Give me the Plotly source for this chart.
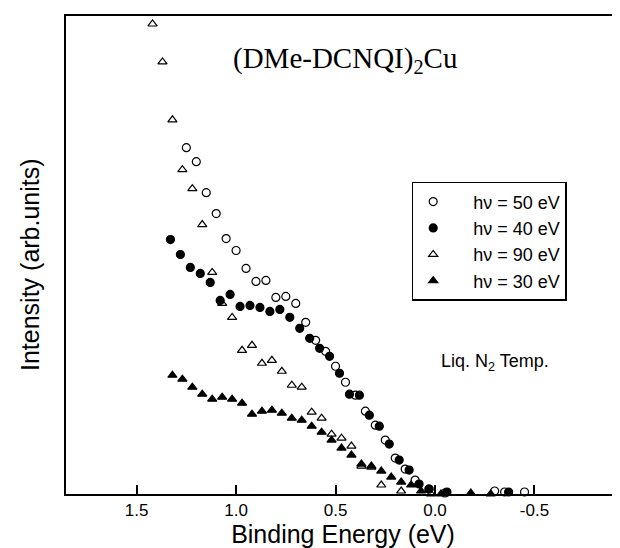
import plotly.graph_objects as go

# hv = 50 eV (open circles)
e50 = [1.25, 1.20, 1.15, 1.10, 1.05, 1.00, 0.95, 0.90, 0.85, 0.80, 0.75, 0.70, 0.65, 0.60,
       0.55, 0.50, 0.45, 0.40, 0.35, 0.30, 0.25, 0.20, 0.15, 0.10, 0.03, -0.05, -0.30, -0.35, -0.45]
i50 = [347, 333, 302, 281, 256, 244, 226, 213, 214, 197, 198, 191, 172, 154,
       143, 128, 112, 99, 83, 69, 54, 36, 25, 14, 5, 1, 3, 2, 2]

# hv = 40 eV (filled circles)
e40 = [1.33, 1.28, 1.23, 1.18, 1.13, 1.08, 1.03, 0.98, 0.93, 0.88, 0.83, 0.78, 0.73, 0.68,
       0.63, 0.58, 0.53, 0.48, 0.43, 0.38, 0.33, 0.28, 0.23, 0.18, 0.13, 0.08, 0.03, -0.06, -0.37]
i40 = [255, 240, 227, 221, 212, 194, 200, 188, 189, 187, 183, 185, 177, 166,
       156, 146, 138, 121, 100, 99, 79, 68, 50, 34, 24, 10, 5, 2, 2]

# hv = 90 eV (open triangles)
e90 = [1.42, 1.37, 1.32, 1.27, 1.22, 1.17, 1.12, 1.07, 1.02, 0.97, 0.92, 0.87, 0.82, 0.77,
       0.72, 0.67, 0.62, 0.57, 0.52, 0.47, 0.42, 0.37, 0.32, 0.27, 0.17, 0.02]
i90 = [471, 433, 375, 325, 306, 270, 222, 191, 177, 144, 149, 131, 134, 123,
       109, 107, 82, 76, 60, 56, 48, 28, 27, 9, 3, 0]

# hv = 30 eV (filled triangles)
e30 = [1.32, 1.27, 1.22, 1.17, 1.12, 1.07, 1.02, 0.97, 0.92, 0.87, 0.82, 0.77, 0.72, 0.67,
       0.62, 0.57, 0.52, 0.47, 0.42, 0.37, 0.32, 0.27, 0.22, 0.17, 0.12, 0.07, -0.03, -0.18, -0.28]
i30 = [119, 115, 107, 100, 95, 97, 95, 91, 80, 83, 84, 81, 76, 74,
       68, 62, 54, 46, 39, 30, 28, 23, 17, 12, 9, 3, 0, 1, 0]

tick_vals = [1.5, 1.0, 0.5, 0.0, -0.5]
tick_text = ["1.5", "1.0", "0.5", "0.0", "-0.5"]

pad = "\u00a0" * 4
series = [
    (e50, i50, pad + "hν = 50 eV", "circle-open", 8),
    (e40, i40, pad + "hν = 40 eV", "circle", 8),
    (e90, i90, pad + "hν = 90 eV", "triangle-up-open", 8),
    (e30, i30, pad + "hν = 30 eV", "triangle-up", 8),
]

fig = go.Figure()
for xs, ys, name, sym, sz in series:
    fig.add_trace(go.Scatter(
        x=xs, y=ys, mode="markers", name=name, cliponaxis=False,
        marker=dict(symbol=sym, size=sz, color="black", line=dict(color="black", width=1.2)),
    ))

fig.update_layout(
    width=620, height=548,
    margin=dict(l=58, r=6, t=7, b=62),
    paper_bgcolor="white", plot_bgcolor="white",
    font=dict(family="Liberation Sans, Arial, sans-serif", color="black"),
    showlegend=True,
    legend=dict(
        x=0.624, y=0.653, xanchor="left", yanchor="top",
        bordercolor="black", borderwidth=1.5, bgcolor="white",
        font=dict(size=18, family="Liberation Sans, Arial, sans-serif"),
        tracegroupgap=0,
    ),
    xaxis=dict(
        range=[1.855, -0.93], tickvals=tick_vals, ticktext=tick_text,
        ticks="inside", ticklen=9, tickwidth=1.5, tickcolor="black",
        showline=True, mirror=True, linecolor="black", linewidth=1.5,
        showgrid=False, zeroline=False,
        tickfont=dict(size=17),
        title=dict(text="Binding Energy (eV)", font=dict(size=25), standoff=6),
    ),
    yaxis=dict(
        range=[0, 479], showticklabels=False, ticks="",
        showline=True, mirror=True, linecolor="black", linewidth=1.5,
        showgrid=False, zeroline=False,
    ),
    annotations=[
        dict(text="Intensity (arb.units)", xref="paper", yref="paper",
             x=-0.066, y=0.48, xanchor="center", yanchor="middle", textangle=-90,
             showarrow=False, font=dict(size=25, color="black")),
        dict(text="(DMe-DCNQI)<sub>2</sub>Cu", xref="paper", yref="paper",
             x=0.297, y=0.908, xanchor="left", yanchor="middle", showarrow=False,
             font=dict(family="Liberation Serif, serif", size=29, color="black")),
        dict(text="Liq. N<sub>2</sub> Temp.", xref="paper", yref="paper",
             x=0.673, y=0.276, xanchor="left", yanchor="middle", showarrow=False,
             font=dict(size=18, color="black")),
    ],
)

fig.write_html("out.html")
